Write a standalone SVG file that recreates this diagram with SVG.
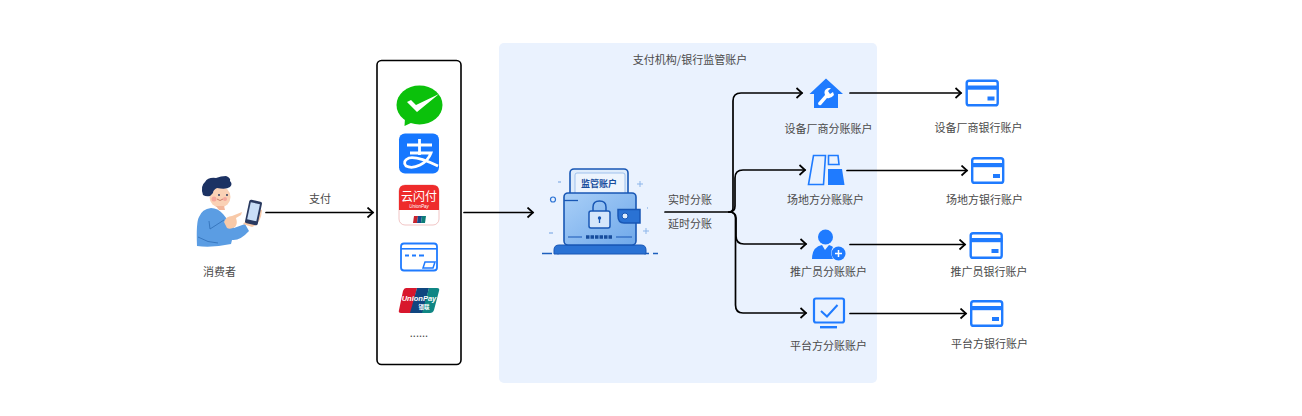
<svg xmlns="http://www.w3.org/2000/svg" width="1302" height="416" viewBox="0 0 1302 416">
<style>
text{font-family:"Noto Sans CJK SC","Liberation Sans",sans-serif;font-size:11px;fill:#4a4a4a;text-anchor:middle}
.c{fill:none;stroke:#000;stroke-width:1.7;stroke-linejoin:round;stroke-linecap:round}
.b{fill:#1f7bff}
.o{fill:none;stroke:#1f7bff}
</style>
<defs>
<marker id="a" markerWidth="12" markerHeight="12" refX="9" refY="6" orient="auto" markerUnits="userSpaceOnUse"><path d="M3.500 1L9 6L3.500 11" fill="none" stroke="#000" stroke-width="1.700"/></marker>
<linearGradient id="w" x1="0" y1="0" x2="1" y2="1"><stop offset="0" stop-color="#a9cff7"/><stop offset="1" stop-color="#6fa8ea"/></linearGradient>
<g id="card"><rect x="1.200" y="1.200" width="31" height="24.600" rx="2.400" fill="none" stroke="#1f7bff" stroke-width="2.400"/><rect x="1" y="6" width="32" height="4.200" fill="#1f7bff"/><rect x="22" y="17" width="7" height="4" fill="#1f7bff"/></g>
</defs>
<rect id="region" x="499" y="43" width="378" height="340" rx="5" fill="#eaf2fe"/>
<text x="690" y="63.500">支付机构/银行监管账户</text>

<g id="connectors">
<path class="c" d="M266 212.500H373" marker-end="url(#a)"/>
<path class="c" d="M464 212.500H533" marker-end="url(#a)"/>
<path class="c" d="M665 212H729Q733 212 733 208V101Q733 93 741 93H802" marker-end="url(#a)"/>
<path class="c" d="M729 212Q735 212 735 206V178Q735 170 743 170H805" marker-end="url(#a)"/>
<path class="c" d="M729 212Q736 212 736 218V236Q736 244 744 244H806" marker-end="url(#a)"/>
<path class="c" d="M729 212Q735.500 212 735.500 218V305Q735.500 313 743 313H806" marker-end="url(#a)"/>
<path class="c" d="M850 93H961" marker-end="url(#a)"/>
<path class="c" d="M847 170.500H967" marker-end="url(#a)"/>
<path class="c" d="M850 244.500H965" marker-end="url(#a)"/>
<path class="c" d="M850 313.500H966" marker-end="url(#a)"/>
</g>
<text x="320" y="203">支付</text>
<text x="690" y="204">实时分账</text>
<text x="690" y="228">延时分账</text>

<g id="consumer">
<path d="M197 246Q196 222 199 217Q202 209 211 208Q218 208 223 214L234 228L245 224L249 231Q240 241 232 240L231 244Q212 248 197 246Z" fill="#5b9de3"/>
<path d="M198 237Q208 243 218 243M209 221L210 229L224 220" fill="none" stroke="#2f6db5" stroke-width=".8"/>
<path d="M224 222Q226 216 232 216L242 212L241 215L236 218Q238 224 235 227Q230 230 227 228Z" fill="#f8c9a8"/>
<path d="M243 224L252 227Q261 224 262 210L258 209L245 222Z" fill="#f8c9a8"/>
<circle cx="220" cy="197" r="10.500" fill="#fad1b5"/>
<path d="M216 206L224 206L225 210L219 210Z" fill="#f3b79b"/>
<circle cx="214" cy="199" r="2.500" fill="#f5a79c"/><circle cx="225" cy="199" r="2" fill="#f5a79c"/>
<circle cx="219" cy="195" r=".9" fill="#1c2f55"/><circle cx="227" cy="195" r=".9" fill="#1c2f55"/>
<path d="M217 199Q220 202 223 199" fill="none" stroke="#b25a4a" stroke-width=".7"/>
<path d="M203 195Q200 186 205 182Q208 177 216 178Q221 176 226 176Q231 178 230 181Q233 184 230 187Q226 190 217 188Q213 190 213 193L210 196Q206 197 203 195Z" fill="#1c3263"/>
<rect x="247" y="200.500" width="13" height="24" rx="2" transform="rotate(12 253.500 212.500)" fill="#2a3a60"/>
<rect x="248.800" y="203" width="9.400" height="17.500" transform="rotate(12 253.500 212)" fill="#c9def7"/>
</g>
<text id="consumer-label" x="219.500" y="275.500">消费者</text>

<g id="payments">
<rect x="377" y="60.500" width="84" height="304" rx="4.500" fill="#fff" stroke="#000" stroke-width="1.600"/>
<g id="wechat">
<ellipse cx="419.500" cy="105" rx="23" ry="19.500" fill="#0bc10b"/>
<path d="M405 118L404.500 126L413 122Z" fill="#0bc10b"/>
<path d="M407 102L411 100L416 105L439 94L417 112Z" fill="#fff"/>
</g>
<g id="alipay">
<rect x="399" y="133.500" width="40" height="40" rx="6" fill="#1677ff"/>
<path d="M407 145H432M419.500 139V155M410 153H431Q428 161 420 165Q412 169 406 166Q402 161 409 158Q417 156 438 166" fill="none" stroke="#fff" stroke-width="2.800"/>
</g>
<g id="unionpay-app">
<rect x="399" y="185" width="40" height="40" rx="6" fill="#fff" stroke="#e8a0a0" stroke-width=".6"/>
<path d="M399 210V191Q399 185 405 185H433Q439 185 439 191V210Z" fill="#ee2b2b"/>
<text x="419" y="201" style="font-size:12px;fill:#fff">云闪付</text>
<text x="419" y="208" style="font-size:4.500px;fill:#fff;font-family:'Liberation Sans',sans-serif;font-style:italic">UnionPay</text>
<path d="M414 216H418L417 223H413Z" fill="#c8242f"/><path d="M418 216H422L421 223H417Z" fill="#154a8a"/><path d="M422 216H426L425 223H421Z" fill="#0d7d78"/>
</g>
<g id="bank-card">
<rect x="401" y="243.500" width="36" height="27" rx="3" fill="none" stroke="#1f7bff" stroke-width="1.800"/>
<rect x="401" y="248" width="36" height="1.600" class="b"/>
<path d="M405 255.500H409M412 255.500H416M419 255.500H424" stroke="#1f7bff" stroke-width="2" fill="none"/>
<path d="M425 262H435L433 268H423Z" fill="none" stroke="#1f7bff" stroke-width="1.500"/>
</g>
<g id="unionpay">
<path d="M406 288H417L411 313H401Q398 313 399 310L403 291Q404 288 406 288Z" fill="#d8172d"/>
<path d="M417 288H429L423 313H410Z" fill="#10467f"/>
<path d="M429 288H437Q440 288 439 291L434 310Q433 313 430 313H422Z" fill="#0f8684"/>
<text x="419" y="301" style="font-size:7.500px;fill:#fff;font-family:'Liberation Sans',sans-serif;font-weight:700;font-style:italic">UnionPay</text>
<text x="424" y="309" style="font-size:5.500px;fill:#fff;font-weight:700">银联</text>
</g>
<text x="419" y="337">......</text>
</g>

<g id="wallet">
<path d="M542 253.500H552M557 253.500H559M644 253.500H649M653 253.500H658" stroke="#1d5fbd" stroke-width="1.500" fill="none"/>
<path d="M554 254V250Q554 245 559 245H641Q646 245 646 250V254Z" fill="#2a72d4" stroke="#1857b5"/>
<rect x="570" y="169" width="58" height="30" rx="4" fill="#dfecfb" stroke="#1857b5" stroke-width="1.600"/>
<rect x="575" y="173" width="50" height="24" rx="2" fill="#edf4fd" stroke="#8db6ea" stroke-width=".8"/>
<text x="599" y="187" style="font-size:9px;fill:#174c9c;font-weight:700">监管账户</text>
<rect x="564" y="193" width="72" height="52" rx="4" fill="url(#w)" stroke="#1857b5" stroke-width="1.600"/>
<path d="M564 200.500H578" stroke="#1857b5" stroke-width="1.300"/>
<rect x="589" y="211" width="21" height="17" rx="2" fill="#d5e6fb" stroke="#1857b5" stroke-width="1.500"/>
<path d="M593 211V207Q593 201 599.500 201Q606 201 606 207V211" fill="none" stroke="#1857b5" stroke-width="1.500"/>
<circle cx="599.500" cy="218" r="1.700" fill="#1857b5"/><path d="M599.500 218V223" stroke="#1857b5" stroke-width="1.300"/>
<path d="M618 209.500H640V223H624Q618 223 618 216Z" fill="#2a72d4" stroke="#1857b5" stroke-width="1.500"/>
<circle cx="625" cy="216" r="3" fill="#dfecfb" stroke="#1857b5"/>
<path d="M568 237H582M616 237H632" stroke="#1857b5" stroke-width="1.200"/>
<path d="M586 237H613" stroke="#174c9c" stroke-width="3.500" stroke-dasharray="3.500 1"/>
<circle cx="553" cy="199.500" r="2.500" fill="none" stroke="#2a72d4" stroke-width="1.200"/>
<path d="M558 182H561M549 233H553M647 208H648" stroke="#6f9fe0"/>
<path d="M640 181V187M637 184H643M646 228V234M643 231H649" stroke="#8db6ea"/>
</g>

<g id="device-account">
<path d="M826 78.500L843 94H838V108H814V94H809.500Z" class="b"/>
<path d="M818 103L825 95Q823 90 828 88L831 88L828 91L830 94L833 92L834 95Q831 99 827 98L821 105Q818 106 818 103Z" fill="#fff"/>
</g>
<text x="828.500" y="133">设备厂商分账账户</text>
<g id="device-bank"><use href="#card" x="965.500" y="79.500"/></g>
<text x="978.500" y="132">设备厂商银行账户</text>

<g id="venue-account">
<path d="M813.500 155.500H825.500L823.500 184.500H808.500Z" fill="none" stroke="#1f7bff" stroke-width="1.600"/>
<path d="M828.500 155.500H838L839 164.500H828.500Z" fill="none" stroke="#1f7bff" stroke-width="1.600"/>
<path d="M828 169H842L844.500 185H828Z" class="b"/>
</g>
<text x="825.500" y="204">场地方分账账户</text>
<g id="venue-bank"><use href="#card" x="971" y="157"/></g>
<text x="984.500" y="203.500">场地方银行账户</text>

<g id="promoter-account">
<circle cx="825.500" cy="237" r="7.500" class="b"/>
<path d="M812 259Q812 247 822 245L825 250L829 245Q832 246 833 247Q831 250 831 254L833 259Z" class="b"/>
<circle cx="838.500" cy="253.500" r="7" class="b"/>
<path d="M835 253.500H842M838.500 250V257" stroke="#fff" stroke-width="1.500"/>
</g>
<text x="828.500" y="276">推广员分账账户</text>
<g id="promoter-bank"><use href="#card" x="969.500" y="232"/></g>
<text x="989" y="275.500">推广员银行账户</text>

<g id="platform-account">
<rect x="814" y="298.500" width="30" height="24" rx="2" fill="none" stroke="#1f7bff" stroke-width="2.200"/>
<path d="M821 311L827 316.500L837.500 305" fill="none" stroke="#1f7bff" stroke-width="2"/>
<rect x="820" y="326" width="17" height="2.400" class="b"/>
</g>
<text x="828.500" y="350">平台方分账账户</text>
<g id="platform-bank"><use href="#card" x="970" y="300"/></g>
<text x="989.500" y="348">平台方银行账户</text>
</svg>
